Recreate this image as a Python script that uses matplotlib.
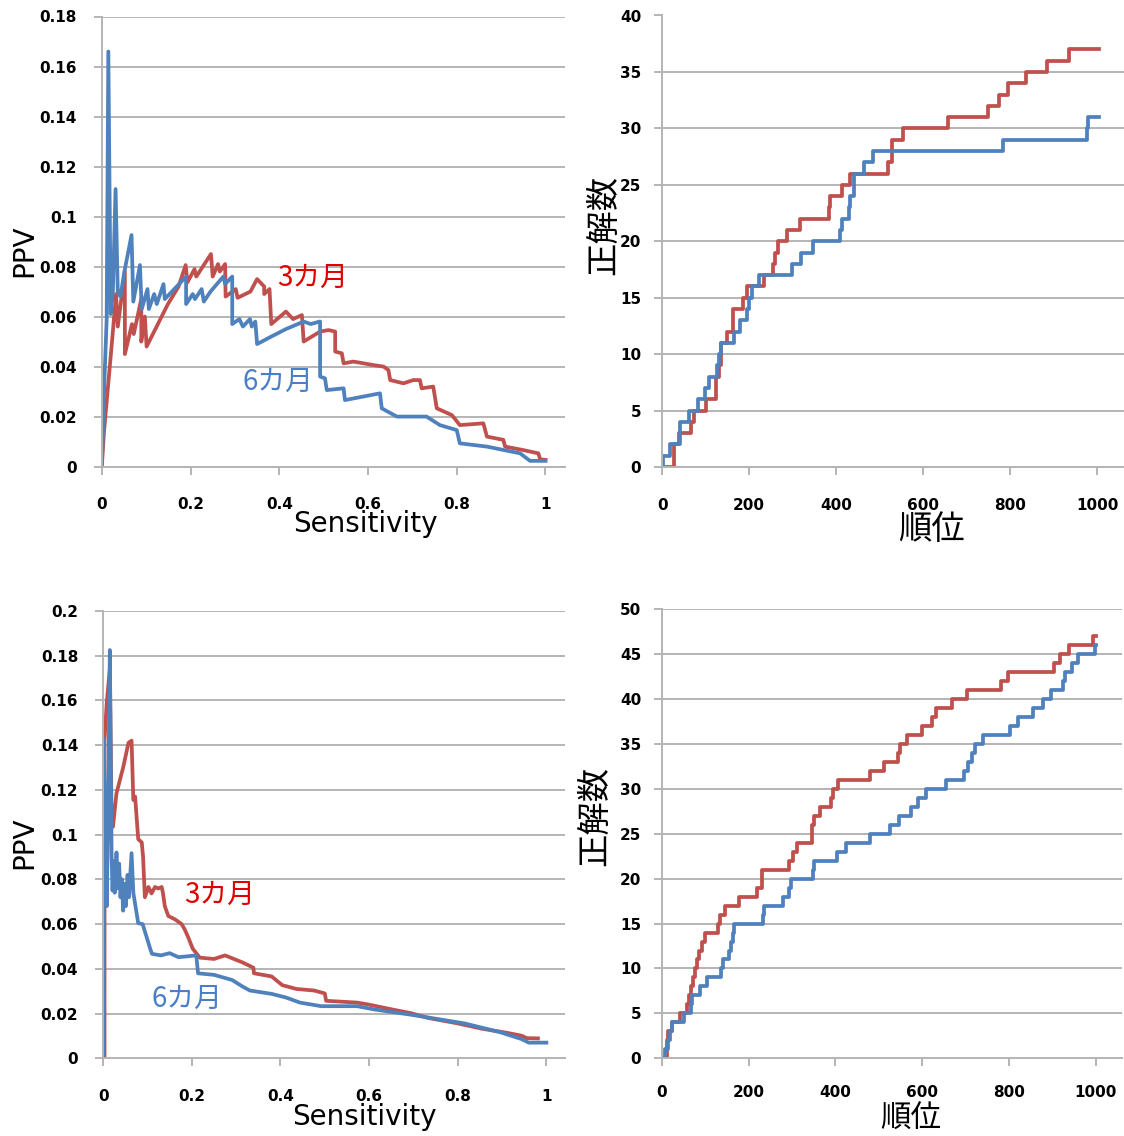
import matplotlib
matplotlib.use('Agg')
import matplotlib.pyplot as plt

plt.rcParams['font.family'] = ['DejaVu Sans', 'Noto Sans CJK JP']

W, H = 1124, 1136
RED = '#C0504D'
BLUE = '#4F81BD'
GRID = '#b4b4b4'
JP = ['Noto Sans CJK JP', 'DejaVu Sans']

# ---- top-left: PPV vs Sensitivity
tl_red_s = [0, 0.005, 0.012, 0.024, 0.032, 0.036, 0.052, 0.052, 0.068, 0.072, 0.089, 0.089, 0.097, 0.101,
            0.149, 0.173, 0.189, 0.193, 0.209, 0.213, 0.246, 0.250, 0.262, 0.266, 0.278, 0.279, 0.302, 0.306,
            0.335, 0.350, 0.366, 0.366, 0.378, 0.382, 0.415, 0.431, 0.451, 0.455, 0.492, 0.511, 0.526, 0.526,
            0.541, 0.545, 0.567, 0.590, 0.612, 0.635, 0.646, 0.650, 0.680, 0.702, 0.717, 0.721, 0.747, 0.755,
            0.789, 0.807, 0.860, 0.868, 0.905, 0.909, 0.950, 0.984, 0.988, 1.0]
tl_red_v = [0, 0.014, 0.028, 0.052, 0.069, 0.056, 0.078, 0.045, 0.057, 0.053, 0.067, 0.050, 0.060, 0.048,
            0.065, 0.072, 0.0806, 0.0737, 0.079, 0.076, 0.085, 0.076, 0.081, 0.078, 0.081, 0.068, 0.071, 0.0675,
            0.070, 0.075, 0.072, 0.069, 0.071, 0.057, 0.062, 0.059, 0.0606, 0.050, 0.054, 0.0546, 0.054, 0.046,
            0.0453, 0.0413, 0.042, 0.0413, 0.0406, 0.040, 0.0386, 0.0346, 0.0333, 0.0346, 0.0346, 0.0313, 0.032, 0.0233,
            0.0206, 0.0166, 0.0173, 0.012, 0.0107, 0.008, 0.0066, 0.0053, 0.0029, 0.0027]
tl_blue_s = [0, 0.006, 0.011, 0.0147, 0.020, 0.025, 0.031, 0.036, 0.042, 0.051, 0.067, 0.071, 0.086, 0.090,
             0.103, 0.106, 0.118, 0.124, 0.139, 0.142, 0.172, 0.190, 0.190, 0.205, 0.210, 0.225, 0.230, 0.245,
             0.274, 0.278, 0.294, 0.294, 0.310, 0.318, 0.334, 0.338, 0.346, 0.350, 0.382, 0.415, 0.455, 0.471,
             0.491, 0.492, 0.492, 0.503, 0.507, 0.545, 0.548, 0.627, 0.631, 0.665, 0.732, 0.762, 0.800, 0.807,
             0.868, 0.943, 0.965, 1.0]
tl_blue_v = [0, 0.035, 0.059, 0.166, 0.061, 0.070, 0.111, 0.070, 0.068, 0.078, 0.0926, 0.066, 0.0806, 0.063,
             0.071, 0.063, 0.069, 0.065, 0.073, 0.067, 0.0726, 0.076, 0.065, 0.069, 0.067, 0.071, 0.066, 0.070,
             0.076, 0.073, 0.076, 0.057, 0.059, 0.056, 0.059, 0.056, 0.058, 0.049, 0.052, 0.055, 0.058, 0.057,
             0.058, 0.058, 0.036, 0.0353, 0.0306, 0.0313, 0.0266, 0.0293, 0.0233, 0.020, 0.020, 0.0166, 0.0146, 0.0093,
             0.008, 0.0053, 0.0023, 0.0023]

# ---- top-right: hits vs rank
tr_red_r = [0, 28, 38, 66, 72, 100, 124, 130, 136, 150, 162, 186, 194, 234, 255, 260, 267, 288, 318, 384, 386,
            413, 433, 520, 529, 553, 658, 749, 775, 796, 836, 884, 935, 1004]
tr_red_c = [0, 2, 3, 4, 5, 6, 8, 9, 11, 12, 14, 15, 16, 17, 18, 19, 20, 21, 22, 23, 24,
            25, 26, 27, 29, 30, 31, 32, 33, 34, 35, 36, 37, 37]
tr_blue_r = [0, 2, 17, 42, 61, 82, 98, 108, 126, 130, 136, 166, 180, 196, 200, 206, 222, 299, 319, 347, 409,
             413, 429, 433, 440, 441, 465, 485, 784, 976, 980, 1004]
tr_blue_c = [0, 1, 2, 4, 5, 6, 7, 8, 9, 10, 11, 12, 13, 14, 15, 16, 17, 18, 19, 20, 21,
             22, 23, 24, 25, 26, 27, 28, 29, 30, 31, 31]

# ---- bottom-left: PPV vs Sensitivity
bl_red_s = [0, 0.003, 0.003, 0.008, 0.015, 0.019, 0.022, 0.030, 0.045, 0.057, 0.064, 0.068, 0.072, 0.079,
            0.087, 0.090, 0.094, 0.102, 0.109, 0.117, 0.124, 0.132, 0.135, 0.139, 0.147, 0.162, 0.177, 0.184,
            0.192, 0.202, 0.218, 0.250, 0.275, 0.315, 0.339, 0.340, 0.380, 0.404, 0.436, 0.476, 0.500, 0.503,
            0.573, 0.597, 0.653, 0.694, 0.734, 0.800, 0.855, 0.911, 0.944, 0.956, 0.981]
bl_red_v = [0, 0, 0.142, 0.159, 0.174, 0.1065, 0.1035, 0.1185, 0.130, 0.141, 0.142, 0.1155, 0.117, 0.098,
            0.0965, 0.090, 0.072, 0.0766, 0.0737, 0.0766, 0.0759, 0.0766, 0.0737, 0.068, 0.0636, 0.0621, 0.060, 0.0576,
            0.054, 0.049, 0.045, 0.0444, 0.046, 0.0428, 0.0405, 0.038, 0.0366, 0.0327, 0.031, 0.0303, 0.029, 0.0257,
            0.0249, 0.0241, 0.0218, 0.0202, 0.018, 0.0156, 0.0132, 0.0114, 0.0101, 0.009, 0.0089]
bl_blue_s = [0, 0.001, 0.008, 0.011, 0.015, 0.019, 0.021, 0.024, 0.026, 0.030, 0.033, 0.036, 0.039, 0.042,
             0.045, 0.048, 0.051, 0.055, 0.058, 0.064, 0.068, 0.079,
             0.089, 0.106, 0.110, 0.130, 0.150, 0.170, 0.210, 0.214, 0.250, 0.291, 0.315, 0.331, 0.380, 0.412,
             0.444, 0.492, 0.573, 0.613, 0.694, 0.815, 0.895, 0.944, 0.960, 1.0]
bl_blue_v = [0, 0.143, 0.068, 0.110, 0.1825, 0.090, 0.075, 0.088, 0.074, 0.092, 0.076, 0.087, 0.072, 0.080,
             0.066, 0.078, 0.068, 0.082, 0.072, 0.0917, 0.074, 0.0604,
             0.060, 0.049, 0.0467, 0.046, 0.047, 0.0452, 0.046, 0.038, 0.0373, 0.035, 0.032, 0.0303, 0.0288, 0.0272,
             0.0249, 0.0233, 0.0233, 0.0218, 0.0195, 0.0156, 0.0117, 0.0086, 0.007, 0.007]

# ---- bottom-right: hits vs rank
br_red_r = [0, 12, 15, 23, 41, 57, 62, 67, 72, 77, 82, 86, 93, 99, 129, 133, 145, 178, 220, 231, 293, 302,
            311, 346, 350, 365, 391, 395, 406, 479, 512, 544, 550, 566, 599, 623, 632, 668, 703, 782, 799, 905,
            917, 939, 994, 1002]
br_red_c = [0, 2, 3, 4, 5, 6, 7, 8, 9, 10, 11, 12, 13, 14, 15, 16, 17, 18, 19, 21, 22, 23,
            24, 26, 27, 28, 29, 30, 31, 32, 33, 34, 35, 36, 37, 38, 39, 40, 41, 42, 43, 44,
            45, 46, 47, 47]
br_blue_r = [0, 7, 15, 18, 23, 51, 67, 69, 88, 104, 137, 140, 155, 159, 163, 167, 232, 235, 280, 293, 297, 349,
             350, 403, 424, 479, 526, 546, 575, 591, 610, 654, 697, 707, 715, 721, 740, 803, 822, 856, 879, 897,
             925, 929, 945, 960, 998, 1002]
br_blue_c = [0, 1, 2, 3, 4, 5, 6, 7, 8, 9, 10, 11, 12, 13, 14, 15, 16, 17, 18, 19, 20, 21,
             22, 23, 24, 25, 26, 27, 28, 29, 30, 31, 32, 33, 34, 35, 36, 37, 38, 39, 40, 41,
             42, 43, 44, 45, 46, 46]

fig = plt.figure(figsize=(W / 100, H / 100), dpi=100)


def box(x0, x1, top, bottom):
    return fig.add_axes([x0 / W, 1 - bottom / H, (x1 - x0) / W, (bottom - top) / H])


def style(ax, xlim, xticks, xlabels, ymax, yticks, ylabels, ypad, xpad=16):
    ax.set_xlim(0, xlim)
    ax.set_ylim(0, ymax)
    ax.set_xticks(xticks)
    ax.set_xticklabels(xlabels)
    ax.set_yticks(yticks)
    ax.set_yticklabels(ylabels)
    ax.grid(axis='y', color=GRID, lw=1.4)
    ax.set_axisbelow(True)
    for s in ['top', 'right']:
        ax.spines[s].set_visible(False)
    for s in ['left', 'bottom']:
        ax.spines[s].set_color(GRID)
        ax.spines[s].set_linewidth(1.4)
    ax.tick_params(axis='y', direction='out', length=6, width=1.4, color=GRID, pad=ypad, labelsize=11)
    ax.tick_params(axis='x', direction='out', length=6, width=1.4, color=GRID, pad=xpad, labelsize=11)
    for t in ax.get_xticklabels() + ax.get_yticklabels():
        t.set_fontweight('bold')


def ftext(x, y, s, **kw):
    fig.text(x / W, 1 - y / H, s, ha='center', va='center', **kw)


ppv_x = [0, 0.2, 0.4, 0.6, 0.8, 1]
ppv_xl = ['0', '0.2', '0.4', '0.6', '0.8', '1']
rank_x = [0, 200, 400, 600, 800, 1000]
rank_xl = ['0', '200', '400', '600', '800', '1000']
LW = 2.7

# top-left
ax1 = box(101.8, 565, 16.5, 466.6)
ax1.plot(tl_red_s, tl_red_v, color=RED, lw=LW)
ax1.plot(tl_blue_s, tl_blue_v, color=BLUE, lw=LW)
yt = [i * 0.02 for i in range(10)]
style(ax1, 1.044, ppv_x, ppv_xl, 0.18, yt,
      ['0', '0.02', '0.04', '0.06', '0.08', '0.1', '0.12', '0.14', '0.16', '0.18'], 12)
ax1.text(0.476, 0.0754, '3カ月', color='#E00000', fontsize=20, family=JP, ha='center', va='center')
ax1.text(0.397, 0.0338, '6カ月', color='#4A7FC8', fontsize=20, family=JP, ha='center', va='center')
ftext(24, 251, 'PPV', fontsize=20, rotation=90)
ftext(365, 524, 'Sensitivity', fontsize=20)

# top-right
ax2 = box(662.2, 1124, 15.5, 467)
ax2.plot(tr_red_r, tr_red_c, color=RED, lw=LW, drawstyle='steps-post')
ax2.plot(tr_blue_r, tr_blue_c, color=BLUE, lw=LW, drawstyle='steps-post')
style(ax2, 1062, rank_x, rank_xl, 40, list(range(0, 41, 5)), [str(v) for v in range(0, 41, 5)], 9)
ftext(604, 225, '正解数', fontsize=24, rotation=90, family=JP)
ftext(932, 530, '順位', fontsize=24, family=JP)

# bottom-left
ax3 = box(103.2, 565, 610.9, 1058.3)
ax3.plot(bl_red_s, bl_red_v, color=RED, lw=LW)
ax3.plot(bl_blue_s, bl_blue_v, color=BLUE, lw=LW)
yt = [i * 0.02 for i in range(11)]
style(ax3, 1.042, ppv_x, ppv_xl, 0.2, yt,
      ['0', '0.02', '0.04', '0.06', '0.08', '0.1', '0.12', '0.14', '0.16', '0.18', '0.2'], 12)
ax3.text(0.2635, 0.073, '3カ月', color='#E00000', fontsize=20, family=JP, ha='center', va='center')
ax3.text(0.189, 0.0265, '6カ月', color='#4A7FC8', fontsize=20, family=JP, ha='center', va='center')
ftext(24, 843, 'PPV', fontsize=20, rotation=90)
ftext(364, 1117, 'Sensitivity', fontsize=20)

# bottom-right
ax4 = box(661.9, 1122, 609.2, 1058.3)
ax4.plot(br_red_r, br_red_c, color=RED, lw=LW, drawstyle='steps-post')
ax4.plot(br_blue_r, br_blue_c, color=BLUE, lw=LW, drawstyle='steps-post')
style(ax4, 1061, rank_x, rank_xl, 50, list(range(0, 51, 5)), [str(v) for v in range(0, 51, 5)], 9, xpad=13)
ftext(595, 816, '正解数', fontsize=24, rotation=90, family=JP)
ftext(911, 1119, '順位', fontsize=22, family=JP)

fig.savefig('out.png', dpi=100)
